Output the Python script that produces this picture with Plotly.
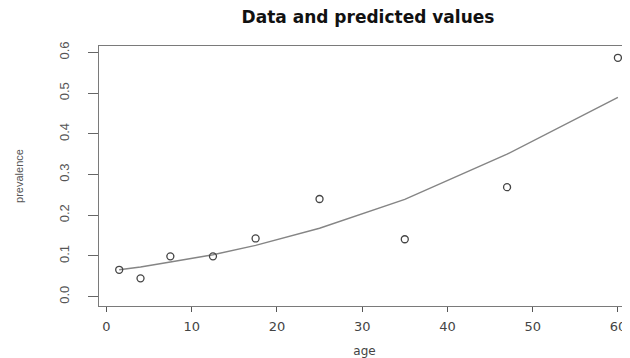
import plotly.graph_objects as go

# Data
age = [1.5, 4, 7.5, 12.5, 17.5, 25, 35, 47, 60]
prevalence = [0.066, 0.045, 0.099, 0.099, 0.143, 0.240, 0.141, 0.269, 0.587]
predicted = [0.066, 0.073, 0.085, 0.103, 0.126, 0.168, 0.239, 0.350, 0.490]

x_ticks = [0, 10, 20, 30, 40, 50, 60]
y_ticks = [0.0, 0.1, 0.2, 0.3, 0.4, 0.5, 0.6]
y_ticklabels = ["0.0", "0.1", "0.2", "0.3", "0.4", "0.5", "0.6"]

# The page body adds an 8px offset, so the figure is sized to fit the window.
W, H = 622, 350

fig = go.Figure()
fig.add_trace(go.Scatter(
    x=age, y=predicted, mode="lines",
    line=dict(color="#858585", width=1.4),
    showlegend=False, hoverinfo="skip",
))
fig.add_trace(go.Scatter(
    x=age, y=prevalence, mode="markers",
    marker=dict(symbol="circle-open", size=7, color="#444444",
                line=dict(width=1.3, color="#444444")),
    showlegend=False, cliponaxis=False,
))

fig.update_layout(
    width=W, height=H,
    margin=dict(l=91, r=0, t=38, b=52, autoexpand=False),
    paper_bgcolor="white", plot_bgcolor="white",
    title=dict(text="<b>Data and predicted values</b>",
               x=360 / W, xanchor="center", xref="container",
               y=1 - 9 / H, yanchor="middle", yref="container",
               automargin=False,
               font=dict(family="DejaVu Sans", size=17, color="#111111")),
    xaxis=dict(
        range=[-0.87, 61.42], tickvals=x_ticks,
        showgrid=False, zeroline=False, automargin=False,
        showline=True, linecolor="#7a7a7a", linewidth=1.3, mirror=True,
        ticks="outside", ticklen=5, tickwidth=1.3, tickcolor="#555555",
        tickfont=dict(family="DejaVu Sans", size=13, color="#444444"),
        ticklabelstandoff=3,
        title=dict(text="age", standoff=14,
                   font=dict(family="DejaVu Sans", size=12, color="#444444")),
    ),
    yaxis=dict(
        range=[-0.023, 0.616], tickvals=y_ticks, ticktext=y_ticklabels,
        showgrid=False, zeroline=False, automargin=False,
        showline=True, linecolor="#7a7a7a", linewidth=1.3, mirror=False,
        ticks="outside", ticklen=10, tickwidth=1.3, tickcolor="#666666",
        tickangle=-90,
        tickfont=dict(family="Liberation Sans", size=13, color="#555555"),
        ticklabelstandoff=14,
        title=dict(text="prevalence", standoff=30,
                   font=dict(family="Liberation Sans", size=11, color="#555555")),
    ),
)

fig.write_html("out.html")
